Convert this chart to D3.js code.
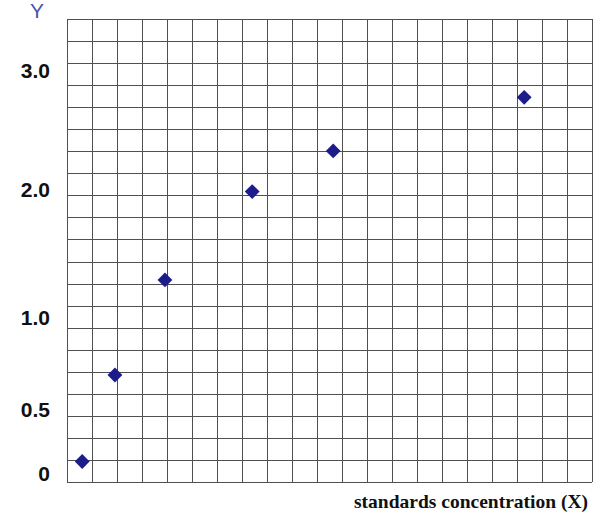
<!DOCTYPE html>
<html><head><meta charset="utf-8">
<script src="https://cdn.jsdelivr.net/npm/d3@7"></script>
<style>html,body{margin:0;padding:0;background:#fff;}svg{display:block;}</style>
</head><body>
<svg id="c" width="600" height="520"></svg>
<script>
// Data (x in grid-column units, y in Y units)
const xValues = [0.62, 1.93, 3.93, 7.42, 10.66, 18.3];
const yValues = [0.09, 0.685, 1.29, 1.98, 2.32, 2.77];
const yTickValues = [0, 0.5, 1, 2, 3];
const yTickLabels = ["0", "0.5", "1.0", "2.0", "3.0"];
const gridCount = 21;
const xTitle = "standards concentration (X)";
const yTitle = "Y";

const svg = d3.select("#c");
const gx = d3.scaleLinear().domain([0, gridCount]).range([66.7, 591.7]);
const gy = d3.scaleLinear().domain([0, gridCount]).range([481.7, 19.3]);
// label positions follow the hand-drawn axis spacing
const y = d3.scaleLinear().domain(yTickValues).range([473, 409, 317, 189, 70]);

const grid = svg.append("g").attr("stroke", "#505050").attr("stroke-width", 1).attr("shape-rendering", "crispEdges");
grid.selectAll("line.v").data(d3.range(gridCount + 1)).join("line")
  .attr("x1", d => Math.round(gx(d)) + 0.5).attr("x2", d => Math.round(gx(d)) + 0.5)
  .attr("y1", gy(0)).attr("y2", gy(gridCount));
grid.selectAll("line.h").data(d3.range(gridCount + 1)).join("line")
  .attr("y1", d => Math.round(gy(d)) + 0.5).attr("y2", d => Math.round(gy(d)) + 0.5)
  .attr("x1", gx(0)).attr("x2", gx(gridCount));

// Y axis labels
const yAxis = d3.axisLeft(y).tickValues(yTickValues).tickFormat((d, i) => yTickLabels[i]).tickSize(0).tickPadding(0);
const ya = svg.append("g").attr("transform", "translate(50,0)").call(yAxis);
ya.select(".domain").remove();
ya.selectAll("text").attr("font-family", "Liberation Sans, Arial, sans-serif")
  .attr("font-size", 21).attr("font-weight", "bold").attr("fill", "#111").attr("dy", "0.36em");

// Y title
svg.append("text").attr("x", 37).attr("y", 18).attr("text-anchor", "middle")
  .attr("font-family", "Liberation Sans, Arial, sans-serif").attr("font-size", 21)
  .attr("fill", "#4a52b0").text(yTitle);

// X title
svg.append("text").attr("x", 588).attr("y", 508).attr("text-anchor", "end")
  .attr("font-family", "Liberation Serif, Times New Roman, serif").attr("font-size", 19.5)
  .attr("font-weight", "bold").attr("fill", "#111").text(xTitle);

// points
const diamond = d3.symbol().type(d3.symbolSquare).size(110);
svg.append("g").selectAll("path").data(xValues.map((v, i) => [v, yValues[i]])).join("path")
  .attr("d", diamond)
  .attr("transform", d => `translate(${gx(d[0])},${y(d[1])}) rotate(45)`)
  .attr("fill", "#1c1c8a");
</script>
</body></html>
